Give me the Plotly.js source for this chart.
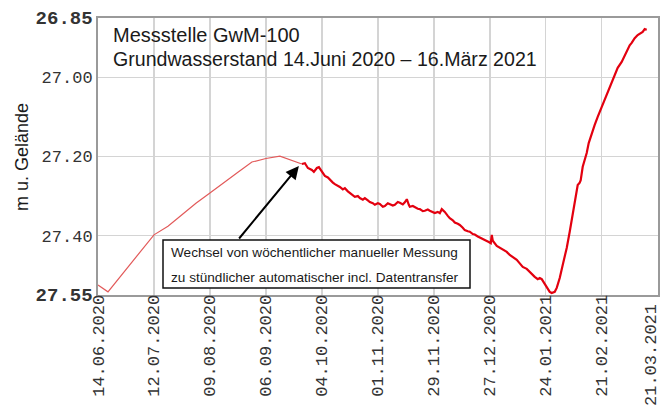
<!DOCTYPE html>
<html>
<head>
<meta charset="utf-8">
<script src="https://cdn.plot.ly/plotly-3.0.1.min.js"></script>
<style>html,body{margin:0;padding:0;background:#fff;}#chart{width:660px;height:407px;}</style>
</head>
<body>
<div id="chart"></div>
<script>
// Weekly manual readings (m below ground)
var weeklyDates = ['2020-06-14','2020-06-19','2020-07-12','2020-07-19','2020-07-26','2020-08-02','2020-08-09','2020-08-16','2020-08-23','2020-08-30','2020-09-06','2020-09-13','2020-09-20','2020-09-24'];
var weeklyLevels = [27.525,27.542,27.398,27.376,27.347,27.318,27.292,27.265,27.240,27.214,27.205,27.199,27.211,27.219];

// Hourly automatic readings
var hourlyDates = ['2020-09-24 00:00','2020-09-25 12:00','2020-09-27 00:00','2020-09-29 00:00','2020-09-30 00:00','2020-10-01 12:00','2020-10-02 12:00','2020-10-04 00:00','2020-10-05 12:00','2020-10-07 00:00','2020-10-08 00:00','2020-10-09 12:00','2020-10-10 12:00','2020-10-12 00:00','2020-10-13 00:00','2020-10-14 12:00','2020-10-15 12:00','2020-10-17 00:00','2020-10-18 00:00','2020-10-19 12:00','2020-10-20 12:00','2020-10-22 00:00','2020-10-23 00:00','2020-10-24 12:00','2020-10-25 12:00','2020-10-27 00:00','2020-10-28 00:00','2020-10-29 12:00','2020-10-30 12:00','2020-11-01 00:00','2020-11-02 00:00','2020-11-03 12:00','2020-11-04 12:00','2020-11-06 00:00','2020-11-07 00:00','2020-11-08 12:00','2020-11-09 12:00','2020-11-11 00:00','2020-11-12 00:00','2020-11-13 12:00','2020-11-14 12:00','2020-11-15 12:00','2020-11-16 12:00','2020-11-17 00:00','2020-11-18 12:00','2020-11-19 12:00','2020-11-21 00:00','2020-11-22 00:00','2020-11-23 12:00','2020-11-24 12:00','2020-11-26 00:00','2020-11-27 00:00','2020-11-28 12:00','2020-11-29 12:00','2020-12-01 00:00','2020-12-02 00:00','2020-12-03 00:00','2020-12-04 12:00','2020-12-06 00:00','2020-12-07 00:00','2020-12-08 12:00','2020-12-09 12:00','2020-12-11 00:00','2020-12-12 00:00','2020-12-13 12:00','2020-12-14 12:00','2020-12-16 00:00','2020-12-17 00:00','2020-12-18 12:00','2020-12-19 12:00','2020-12-21 00:00','2020-12-22 00:00','2020-12-23 12:00','2020-12-24 12:00','2020-12-26 12:00','2020-12-27 12:00','2020-12-28 00:00','2020-12-28 12:00','2020-12-30 12:00','2021-01-01 00:00','2021-01-02 12:00','2021-01-04 12:00','2021-01-06 00:00','2021-01-08 00:00','2021-01-09 12:00','2021-01-11 00:00','2021-01-12 12:00','2021-01-14 12:00','2021-01-16 00:00','2021-01-17 00:00','2021-01-18 12:00','2021-01-20 00:00','2021-01-21 00:00','2021-01-22 00:00','2021-01-23 12:00','2021-01-25 00:00','2021-01-26 00:00','2021-01-27 00:00','2021-01-28 12:00','2021-01-29 12:00','2021-01-31 00:00','2021-02-01 12:00','2021-02-03 12:00','2021-02-05 00:00','2021-02-06 12:00','2021-02-07 12:00','2021-02-09 00:00','2021-02-10 00:00','2021-02-10 12:00','2021-02-11 12:00','2021-02-13 12:00','2021-02-14 12:00','2021-02-16 00:00','2021-02-17 12:00','2021-02-19 00:00','2021-02-21 00:00','2021-02-22 12:00','2021-02-24 00:00','2021-02-26 00:00','2021-02-27 12:00','2021-03-01 00:00','2021-03-03 00:00','2021-03-04 12:00','2021-03-06 00:00','2021-03-07 00:00','2021-03-08 00:00','2021-03-09 12:00','2021-03-11 00:00','2021-03-12 12:00','2021-03-13 12:00','2021-03-14 12:00','2021-03-15 12:00','2021-03-16 00:00'];
var hourlyLevels = [27.219,27.217,27.229,27.234,27.239,27.229,27.227,27.239,27.249,27.253,27.259,27.266,27.270,27.273,27.277,27.283,27.280,27.288,27.292,27.298,27.302,27.300,27.305,27.309,27.305,27.311,27.315,27.318,27.322,27.318,27.320,27.327,27.325,27.318,27.320,27.324,27.322,27.315,27.317,27.321,27.316,27.308,27.322,27.327,27.325,27.328,27.332,27.333,27.338,27.337,27.334,27.337,27.341,27.343,27.340,27.343,27.333,27.340,27.350,27.356,27.361,27.367,27.370,27.373,27.380,27.386,27.389,27.390,27.396,27.397,27.402,27.404,27.408,27.411,27.416,27.419,27.398,27.413,27.426,27.430,27.436,27.441,27.449,27.455,27.461,27.470,27.479,27.484,27.492,27.498,27.504,27.510,27.507,27.510,27.522,27.532,27.542,27.545,27.542,27.532,27.507,27.474,27.431,27.390,27.343,27.310,27.272,27.266,27.260,27.226,27.191,27.166,27.141,27.120,27.100,27.075,27.057,27.037,27.012,26.994,26.976,26.961,26.944,26.926,26.919,26.913,26.901,26.893,26.888,26.885,26.878,26.880];

var yTickVals = [26.85, 27.00, 27.20, 27.40, 27.55];
var yTickText = ['<b><span style="font-size:19px">26.85</span></b>','27.00','27.20','27.40','<b><span style="font-size:19px">27.55</span></b>'];
var xTickVals = ['2020-06-14','2020-07-12','2020-08-09','2020-09-06','2020-10-04','2020-11-01','2020-11-29','2020-12-27','2021-01-24','2021-02-21','2021-03-21'];
var xTickText = ['14.06.2020','12.07.2020','09.08.2020','06.09.2020','04.10.2020','01.11.2020','29.11.2020','27.12.2020','24.01.2021','21.02.2021','21.03.2021'];

var titleLines = ['Messstelle GwM-100', 'Grundwasserstand 14.Juni 2020 \u2013 16.März 2021'];
var noteLines = ['Wechsel von wöchentlicher manueller Messung', 'zu stündlicher automatischer incl. Datentransfer'];
var yTitle = 'm u. Gelände';
var arrowTip = {x: '2020-09-22 12:00', y: 27.224};

var traces = [
  {x: weeklyDates, y: weeklyLevels, type: 'scatter', mode: 'lines',
   line: {color: '#e25a5a', width: 1.2}, hoverinfo: 'skip'},
  {x: hourlyDates, y: hourlyLevels, type: 'scatter', mode: 'lines',
   line: {color: '#e3000f', width: 2.2}, hoverinfo: 'skip'}
];

function px2x(p){ return (p - 98) / 560; }
function px2y(p){ return (295 - p) / 277; }

// the last tick label sits at the right edge; draw it as an annotation shifted slightly inwards
var lastIdx = xTickText.length - 1;
var shownTickText = xTickText.map(function(t, i){ return i === lastIdx ? '' : t; });

var layout = {
  width: 660, height: 407,
  margin: {l: 98, r: 2, t: 18, b: 112, pad: 0},
  paper_bgcolor: '#ffffff', plot_bgcolor: '#ffffff',
  showlegend: false,
  font: {family: 'Liberation Sans, Arial, sans-serif', color: '#222'},
  xaxis: {
    type: 'date',
    range: ['2020-06-14', '2021-03-21 04:00'],
    tickmode: 'array', tickvals: xTickVals, ticktext: shownTickText, tickangle: -90,
    tickfont: {family: 'Liberation Mono, Courier New, monospace', size: 17, color: '#333'},
    ticklabelstandoff: -9,
    showgrid: true, gridcolor: '#d4d4d4', gridwidth: 1.5,
    showline: true, linecolor: '#9a9a9a', linewidth: 2, mirror: true,
    ticks: '', zeroline: false, fixedrange: true
  },
  yaxis: {
    range: [27.55, 26.85],
    tickvals: yTickVals, ticktext: yTickText,
    tickfont: {family: 'Liberation Mono, Courier New, monospace', size: 17, color: '#333'},
    showgrid: true, gridcolor: '#d4d4d4', gridwidth: 1.5,
    showline: true, linecolor: '#9a9a9a', linewidth: 2, mirror: true,
    ticks: '', zeroline: false, fixedrange: true
  },
  shapes: [
    {type: 'rect', xref: 'paper', yref: 'y', x0: 0.003, x1: 0.875, y0: 27.00, y1: 26.852,
     fillcolor: '#ffffff', line: {width: 0}, layer: 'below'},
    {type: 'rect', xref: 'paper', yref: 'paper', x0: px2x(163), x1: px2x(470), y0: px2y(288), y1: px2y(240),
     fillcolor: '#ffffff', line: {color: '#111', width: 1.5}, layer: 'above'}
  ],
  annotations: [
    {xref: 'paper', yref: 'paper', x: px2x(111), y: px2y(35), xanchor: 'left', yanchor: 'middle',
     text: titleLines[0], showarrow: false, font: {size: 20, color: '#1a1a1a'}},
    {xref: 'paper', yref: 'paper', x: px2x(111), y: px2y(59), xanchor: 'left', yanchor: 'middle',
     text: titleLines[1], showarrow: false, font: {size: 19.6, color: '#1a1a1a'}},
    {xref: 'paper', yref: 'paper', x: px2x(169), y: px2y(252), xanchor: 'left', yanchor: 'middle',
     text: noteLines[0], showarrow: false, font: {size: 13.6, color: '#1a1a1a'}},
    {xref: 'paper', yref: 'paper', x: px2x(169), y: px2y(277), xanchor: 'left', yanchor: 'middle',
     text: noteLines[1], showarrow: false, font: {size: 13.6, color: '#1a1a1a'}},
    {xref: 'x', yref: 'y', x: arrowTip.x, y: arrowTip.y, ax: -61, ay: 74, axref: 'pixel', ayref: 'pixel',
     text: '', showarrow: true, arrowhead: 2, arrowsize: 1.3, arrowwidth: 2, arrowcolor: '#000'},
    {xref: 'paper', yref: 'paper', x: px2x(22), y: px2y(157), xanchor: 'center', yanchor: 'middle',
     text: yTitle, textangle: -90, showarrow: false, font: {size: 18, color: '#1a1a1a'}},
    {xref: 'paper', yref: 'paper', x: px2x(651), y: px2y(302), xanchor: 'center', yanchor: 'top',
     text: xTickText[lastIdx], textangle: -90, showarrow: false,
     font: {family: 'Liberation Mono, Courier New, monospace', size: 17, color: '#333'}}
  ]
};

Plotly.newPlot('chart', traces, layout, {displayModeBar: false, staticPlot: true});
</script>
</body>
</html>
